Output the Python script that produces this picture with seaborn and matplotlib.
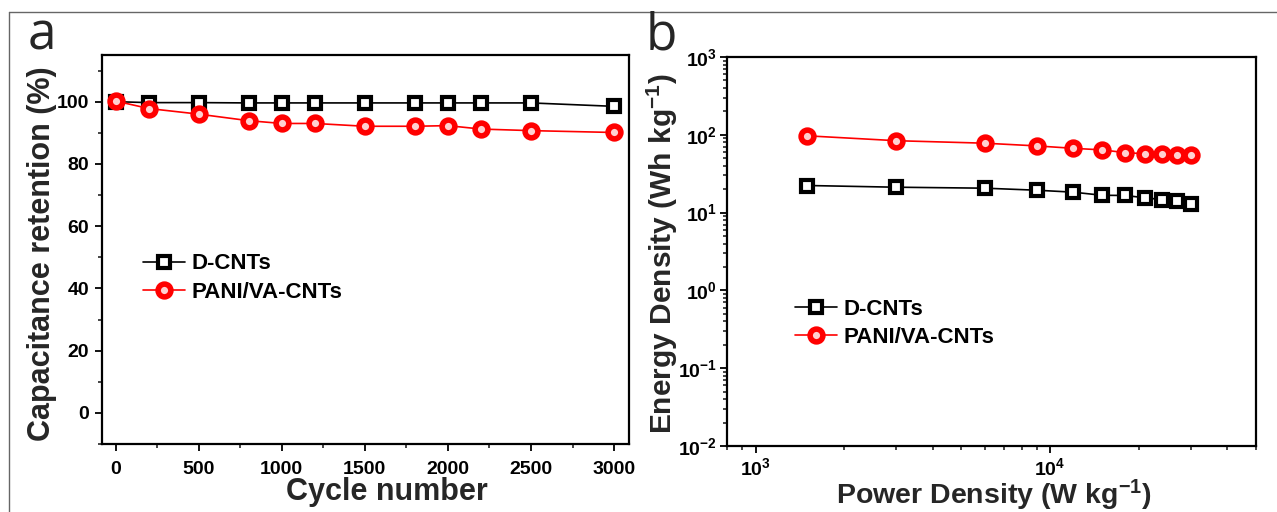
import matplotlib
matplotlib.use("Agg")
import matplotlib.pyplot as plt
import seaborn as sns
import numpy as np
from matplotlib.ticker import AutoMinorLocator, LogLocator, FuncFormatter, NullFormatter
from matplotlib.lines import Line2D

# ---- data ----
cycles = [0, 200, 500, 800, 1000, 1200, 1500, 1800, 2000, 2200, 2500, 3000]
dcnt_retention = [100.0, 99.7, 99.7, 99.6, 99.6, 99.6, 99.6, 99.6, 99.6, 99.6, 99.6, 98.5]
pani_retention = [100.2, 97.8, 96.0, 93.9, 93.0, 93.0, 92.1, 92.1, 92.3, 91.2, 90.7, 90.1]

power_density = [1500, 3000, 6000, 9000, 12000, 15000, 18000, 21000, 24000, 27000, 30000]
pani_energy = [97, 84, 78, 72, 67, 64, 59, 57, 56, 55, 55]
dcnt_energy = [22.3, 21.2, 20.6, 19.4, 18.3, 16.7, 16.6, 15.5, 14.7, 14.0, 12.9]

series_names = ["D-CNTs", "PANI/VA-CNTs"]
a_xticks = [0, 500, 1000, 1500, 2000, 2500, 3000]
a_yticks = [0, 20, 40, 60, 80, 100]

# ---- style ----
sns.set_style("ticks")
plt.rcParams['font.family'] = ['Liberation Sans', 'DejaVu Sans']
plt.rcParams['font.weight'] = 'bold'
plt.rcParams['axes.labelweight'] = 'bold'
plt.rcParams['mathtext.fontset'] = 'custom'
plt.rcParams['mathtext.rm'] = 'Liberation Sans:bold'
plt.rcParams['mathtext.bf'] = 'Liberation Sans:bold'
plt.rcParams['mathtext.it'] = 'Liberation Sans:bold'
plt.rcParams['mathtext.default'] = 'rm'

W, H = 1277, 512
fig = plt.figure(figsize=(W / 100, H / 100), dpi=100)
fig.patch.set_facecolor("white")

def fx(px):
    return px / W

def fy(py):
    return 1 - py / H

ax_a = fig.add_axes([fx(101.5), fy(444), fx(629) - fx(101.5), fy(55) - fy(444)])
ax_b = fig.add_axes([fx(727), fy(446), fx(1256) - fx(727), fy(57) - fy(446)])

sq_kw = dict(marker='s', markersize=8.5, markerfacecolor='white', markeredgecolor='black',
             markeredgewidth=3.0, linewidth=1.2, color='black')
ci_kw = dict(marker='o', markersize=9.2, markerfacecolor='#ffd0d0', markeredgecolor='#ff0000',
             markeredgewidth=4.0, linewidth=1.2, color='#ff0000')

# ---- panel a ----
sns.lineplot(x=cycles, y=dcnt_retention, ax=ax_a, label=series_names[0], sort=False, **sq_kw)
sns.lineplot(x=cycles, y=pani_retention, ax=ax_a, label=series_names[1], sort=False, **ci_kw)
ax_a.set_xlim(-85, 3090)
ax_a.set_ylim(-10, 115)
ax_a.set_xticks(a_xticks)
ax_a.set_yticks(a_yticks)
ax_a.xaxis.set_minor_locator(AutoMinorLocator(2))
ax_a.yaxis.set_minor_locator(AutoMinorLocator(2))
ax_a.set_xlabel("Cycle number", fontsize=22, fontweight='bold')
ax_a.set_ylabel("Capacitance retention (%)", fontsize=22, fontweight='bold')

# ---- panel b ----
sns.lineplot(x=power_density, y=dcnt_energy, ax=ax_b, label=series_names[0], sort=False, **sq_kw)
sns.lineplot(x=power_density, y=pani_energy, ax=ax_b, label=series_names[1], sort=False, **ci_kw)
ax_b.set_xscale('log')
ax_b.set_yscale('log')
ax_b.set_xlim(800, 50000)
ax_b.set_ylim(1e-2, 1e3)
ax_b.xaxis.set_major_locator(LogLocator(base=10, numticks=10))
ax_b.xaxis.set_minor_locator(LogLocator(base=10, subs=np.arange(2, 10), numticks=20))
ax_b.yaxis.set_major_locator(LogLocator(base=10, numticks=10))
ax_b.yaxis.set_minor_locator(LogLocator(base=10, subs=np.arange(2, 10), numticks=20))
pow_fmt = FuncFormatter(lambda v, p: r"$10^{%d}$" % int(round(np.log10(v))))
ax_b.xaxis.set_major_formatter(pow_fmt)
ax_b.yaxis.set_major_formatter(pow_fmt)
ax_b.xaxis.set_minor_formatter(NullFormatter())
ax_b.yaxis.set_minor_formatter(NullFormatter())
ax_b.set_xlabel(r"Power Density (W kg$^{-1}$)", fontsize=20.5, fontweight='bold')
ax_b.set_ylabel(r"Energy Density (Wh kg$^{-1}$)", fontsize=21.5, fontweight='bold')

for ax in (ax_a, ax_b):
    for sp in ax.spines.values():
        sp.set_linewidth(1.6)
        sp.set_color('black')
        sp.set_visible(True)
    ax.tick_params(which='major', direction='out', length=5, width=1.3, labelsize=14,
                   top=False, right=False, colors='black')
    ax.tick_params(which='minor', direction='out', length=3, width=1.2, top=False, right=False)
    for lab in ax.get_xticklabels() + ax.get_yticklabels():
        lab.set_fontweight('bold')
    ax.grid(False)

ax_a.tick_params(axis='y', pad=4)
ax_a.tick_params(axis='x', pad=7)
ax_b.tick_params(axis='y', pad=2)
ax_b.tick_params(axis='x', pad=3)

ax_a.yaxis.set_label_coords(-0.084, 0.49)
ax_a.xaxis.set_label_coords(0.541, -0.085)
ax_b.yaxis.set_label_coords(-0.088, 0.494)
ax_b.xaxis.set_label_coords(0.505, -0.083)

leg_kw = dict(frameon=False, fontsize=16, handlelength=1.9, handletextpad=0.3,
              labelspacing=0.32, borderpad=0, borderaxespad=0, loc='upper left')
la = ax_a.legend(bbox_to_anchor=(0.078, 0.490), **leg_kw)
lb = ax_b.legend(bbox_to_anchor=(0.1285, 0.378), **leg_kw)
for leg in (la, lb):
    for t in leg.get_texts():
        t.set_fontweight('bold')
        t.set_color('black')

# panel letters
fig.text(fx(28), fy(49), "a", fontsize=37, fontweight='normal', family=['Open Sans', 'DejaVu Sans'],
         ha='left', va='baseline')
fig.text(fx(646), fy(50), "b", fontsize=37, fontweight='normal', family=['Open Sans', 'DejaVu Sans'],
         ha='left', va='baseline')

# outer frame lines
fig.add_artist(Line2D([fx(9), 1.0], [fy(12), fy(12)], transform=fig.transFigure, color='#666666', lw=1.0))
fig.add_artist(Line2D([fx(9), fx(9)], [fy(12), 0.0], transform=fig.transFigure, color='#666666', lw=1.0))

fig.savefig("out.png", dpi=100, facecolor='white')
